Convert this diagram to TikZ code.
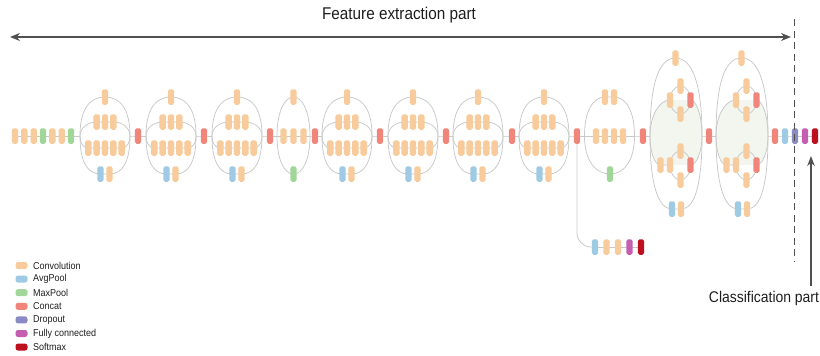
\documentclass[tikz,border=0pt]{standalone}
\usepackage{fontspec}
\setmainfont{Liberation Sans}[FakeStretch=0.9]
\usetikzlibrary{arrows.meta}

\definecolor{cconv}{RGB}{248,203,156}
\definecolor{cavg}{RGB}{158,202,228}
\definecolor{cmax}{RGB}{160,214,152}
\definecolor{ccat}{RGB}{240,134,122}
\definecolor{cdrop}{RGB}{140,138,196}
\definecolor{cfc}{RGB}{196,94,176}
\definecolor{csoft}{RGB}{190,15,30}
\definecolor{cwire}{RGB}{200,200,200}
\definecolor{cshade}{RGB}{243,246,239}
\definecolor{ctext}{RGB}{30,30,30}
\definecolor{carrow}{RGB}{80,80,80}

\pgfdeclarelayer{wires}
\pgfsetlayers{wires,main}

\tikzset{
  blk/.style={rectangle, rounded corners=1.8pt, minimum width=6.4pt,
    minimum height=15.5pt, inner sep=0pt, outer sep=0pt, draw=none},
  convblk/.style={blk, fill=cconv},
  avgblk/.style={blk, fill=cavg},
  maxblk/.style={blk, fill=cmax},
  catblk/.style={blk, fill=ccat},
  dropblk/.style={blk, fill=cdrop},
  fcblk/.style={blk, fill=cfc},
  softblk/.style={blk, fill=csoft},
  wire/.style={draw=cwire, line width=0.75pt},
  swatch/.style={rectangle, rounded corners=2.5pt, minimum width=12pt,
    minimum height=7pt, inner sep=0pt},
  legtext/.style={anchor=west, inner sep=0pt, text=ctext,
    font=\fontsize{10}{11}\selectfont},
  heading/.style={text=ctext, inner sep=0pt, font=\fontsize{17}{19}\selectfont},
  bigarrow/.style={draw=carrow, line width=1.8pt},
  dashline/.style={draw=carrow, line width=1.7pt, dash pattern=on 7pt off 4.5pt},
}

% Inception module with 1 / 3 / 5 / pool+1 branches
\newcommand\incA[2]{%
  \node[convblk] (#1t) at (#2,97) {};
  \foreach \i/\d in {1/-8.33,2/0,3/8.33}
    \node[convblk] (#1m\i) at ({#2+(\d)},122) {};
  \foreach \i/\d in {1/-16.67,2/-8.33,3/0,4/8.33,5/16.67}
    \node[convblk] (#1n\i) at ({#2+(\d)},148) {};
  \node[avgblk] (#1b1) at ({#2-4.5},174) {};
  \node[convblk] (#1b2) at ({#2+4.5},174) {};
  \coordinate (#1l) at ({#2-25},136);
  \coordinate (#1r) at ({#2+25},136);
}
\newcommand\wireA[1]{%
  \draw[wire] (#1l) to[out=90,in=180,out distance=26pt,in distance=16pt] (#1t.center)
    to[out=0,in=90,out distance=16pt,in distance=26pt] (#1r);
  \draw[wire] (#1l) to[out=90,in=180,out distance=8pt,in distance=9pt] (#1m1.center)
    -- (#1m3.center) to[out=0,in=90,out distance=9pt,in distance=8pt] (#1r);
  \draw[wire] (#1l) to[out=-90,in=180,out distance=7pt,in distance=5pt] (#1n1.center)
    -- (#1n5.center) to[out=0,in=-90,out distance=5pt,in distance=7pt] (#1r);
  \draw[wire] (#1l) to[out=-90,in=180,out distance=26pt,in distance=13pt] (#1b1.center)
    -- (#1b2.center) to[out=0,in=-90,out distance=13pt,in distance=26pt] (#1r);
}

% Grid reduction module (1 / 3 / max pool)
\newcommand\incB[2]{%
  \node[convblk] (#1t) at (#2,97) {};
  \foreach \i/\d in {1/-10,2/0,3/10}
    \node[convblk] (#1m\i) at ({#2+(\d)},136) {};
  \node[maxblk] (#1b) at (#2,174) {};
  \coordinate (#1l) at ({#2-16.5},136);
  \coordinate (#1r) at ({#2+16.5},136);
}
\newcommand\wireB[1]{%
  \draw[wire] (#1l) to[out=90,in=180,out distance=24pt,in distance=9pt] (#1t.center)
    to[out=0,in=90,out distance=9pt,in distance=24pt] (#1r);
  \draw[wire] (#1l) -- (#1r);
  \draw[wire] (#1l) to[out=-90,in=180,out distance=24pt,in distance=9pt] (#1b.center)
    to[out=0,in=-90,out distance=9pt,in distance=24pt] (#1r);
}

% Grid reduction module (2 / 4 / max pool)
\newcommand\incD[2]{%
  \node[convblk] (#1t1) at ({#2-4.5},97) {};
  \node[convblk] (#1t2) at ({#2+4.5},97) {};
  \foreach \i/\d in {1/-13.5,2/-4.5,3/4.5,4/13.5}
    \node[convblk] (#1m\i) at ({#2+(\d)},136) {};
  \node[maxblk] (#1b) at ({#2+0.5},174) {};
  \coordinate (#1l) at ({#2-25},136);
  \coordinate (#1r) at ({#2+25},136);
}
\newcommand\wireD[1]{%
  \draw[wire] (#1l) to[out=90,in=180,out distance=25pt,in distance=12pt] (#1t1.center)
    -- (#1t2.center) to[out=0,in=90,out distance=12pt,in distance=25pt] (#1r);
  \draw[wire] (#1l) -- (#1r);
  \draw[wire] (#1l) to[out=-90,in=180,out distance=25pt,in distance=14pt] (#1b.center)
    to[out=0,in=-90,out distance=14pt,in distance=25pt] (#1r);
}

% Expanded filter bank module with split branches
\newcommand\incE[2]{%
  \node[convblk] (#1t) at ({#2-0.5},58) {};
  \node[convblk] (#1uc) at ({#2-6},100) {};
  \node[convblk] (#1ut) at ({#2+4.5},86) {};
  \node[convblk] (#1ub) at ({#2+4.5},114) {};
  \node[catblk]  (#1uk) at ({#2+14.5},100) {};
  \node[convblk] (#1lc1) at ({#2-15.5},165) {};
  \node[convblk] (#1lc2) at ({#2-6},165) {};
  \node[convblk] (#1lt) at ({#2+4.5},151) {};
  \node[convblk] (#1lb) at ({#2+4.5},180) {};
  \node[catblk]  (#1lk) at ({#2+14.5},165) {};
  \node[avgblk]  (#1b1) at ({#2-4},209) {};
  \node[convblk] (#1b2) at ({#2+5},209) {};
  \coordinate (#1l) at ({#2-26},136);
  \coordinate (#1r) at ({#2+26},136);
}
\newcommand\wireE[1]{%
  \fill[cshade] (#1l) to[out=90,in=180,out distance=20pt,in distance=11pt] (#1uc.center)
    -- (#1uk.center) to[out=0,in=90,out distance=6pt,in distance=20pt] (#1r)
    to[out=-90,in=0,out distance=16pt,in distance=6pt] (#1lk.center)
    -- (#1lc1.center) to[out=180,in=-90,out distance=6pt,in distance=16pt] (#1l) -- cycle;
  \draw[wire] (#1l) to[out=90,in=180,out distance=52pt,in distance=17pt] (#1t.center)
    to[out=0,in=90,out distance=17pt,in distance=52pt] (#1r);
  \draw[wire] (#1l) to[out=-90,in=180,out distance=48pt,in distance=14pt] (#1b1.center)
    -- (#1b2.center) to[out=0,in=-90,out distance=14pt,in distance=48pt] (#1r);
  % upper split
  \draw[wire] (#1l) to[out=90,in=180,out distance=20pt,in distance=11pt] (#1uc.center);
  \draw[wire] (#1uc.center) to[out=90,in=180,out distance=7.7pt,in distance=5.8pt] (#1ut.center)
    to[out=0,in=90,out distance=5.5pt,in distance=7.7pt] (#1uk.center);
  \draw[wire] (#1uc.center) to[out=-90,in=180,out distance=7.7pt,in distance=5.8pt] (#1ub.center)
    to[out=0,in=-90,out distance=5.5pt,in distance=7.7pt] (#1uk.center);
  \draw[wire] (#1uk.center) to[out=0,in=90,out distance=6pt,in distance=20pt] (#1r);
  % lower split
  \draw[wire] (#1l) to[out=-90,in=180,out distance=16pt,in distance=6pt] (#1lc1.center)
    -- (#1lc2.center);
  \draw[wire] (#1lc2.center) to[out=90,in=180,out distance=7.7pt,in distance=5.8pt] (#1lt.center)
    to[out=0,in=90,out distance=5.5pt,in distance=7.7pt] (#1lk.center);
  \draw[wire] (#1lc2.center) to[out=-90,in=180,out distance=8pt,in distance=5.8pt] (#1lb.center)
    to[out=0,in=-90,out distance=5.5pt,in distance=8pt] (#1lk.center);
  \draw[wire] (#1lk.center) to[out=0,in=-90,out distance=6pt,in distance=16pt] (#1r);
}

\begin{document}
\begin{tikzpicture}[x=1pt,y=-1pt]
  \useasboundingbox (0,0) rectangle (820,356);

  % stem
  \foreach \x/\s [count=\i] in {15/convblk,24.3/convblk,33.7/convblk,43/maxblk,
      52.3/convblk,61.7/convblk,71/maxblk}
    \node[\s] (s\i) at (\x,136) {};

  % modules
  \incA{a1}{105}
  \incA{a2}{171}
  \incA{a3}{237}
  \incB{b}{293.5}
  \incA{c1}{347}
  \incA{c2}{413}
  \incA{c3}{478}
  \incA{c4}{544}
  \incD{d}{609.5}
  \incE{e1}{676}
  \incE{e2}{742}

  % concatenations between modules
  \foreach \x [count=\i] in {138,204,270,315,380,446,512,577,643,709,775}
    \node[catblk] (k\i) at (\x,136) {};

  % auxiliary classifier
  \node[avgblk]  (x1) at (595,247) {};
  \node[convblk] (x2) at (606.5,247) {};
  \node[convblk] (x3) at (618,247) {};
  \node[fcblk]   (x4) at (629.5,247) {};
  \node[softblk] (x5) at (641,247) {};

  % classifier head
  \node[avgblk]  (f1) at (785,136) {};
  \node[dropblk] (f2) at (795,136) {};
  \node[fcblk]   (f3) at (805,136) {};
  \node[softblk] (f4) at (815,136) {};

  \begin{pgfonlayer}{wires}
    \wireA{a1}\wireA{a2}\wireA{a3}\wireB{b}
    \wireA{c1}\wireA{c2}\wireA{c3}\wireA{c4}
    \wireD{d}\wireE{e1}\wireE{e2}
    \draw[wire] (s1.center) -- (a1l);
    \draw[wire] (a1r) -- (k1.center) -- (a2l);
    \draw[wire] (a2r) -- (k2.center) -- (a3l);
    \draw[wire] (a3r) -- (k3.center) -- (bl);
    \draw[wire] (br) -- (k4.center) -- (c1l);
    \draw[wire] (c1r) -- (k5.center) -- (c2l);
    \draw[wire] (c2r) -- (k6.center) -- (c3l);
    \draw[wire] (c3r) -- (k7.center) -- (c4l);
    \draw[wire] (c4r) -- (k8.center) -- (dl);
    \draw[wire] (dr) -- (k9.center) -- (e1l);
    \draw[wire] (e1r) -- (k10.center) -- (e2l);
    \draw[wire] (e2r) -- (k11.center) -- (f4.center);
    \draw[wire, rounded corners=14pt] (k8.center) |- (x1.center);
    \draw[wire] (x1.center) -- (x5.center);
  \end{pgfonlayer}

  % feature extraction span
  \coordinate (fl) at (10,37);
  \coordinate (fr) at (791,37);
  \draw[bigarrow, {Stealth[length=10pt,width=8pt]}-{Stealth[length=10pt,width=8pt]}] (fl) -- (fr);
  \node[heading] (fet) at (399,15) {Feature extraction part};

  % split between the two parts
  \coordinate (dtop) at (794.5,19);
  \coordinate (dbot) at (794.5,262);
  \draw[dashline] (dtop) -- (dbot);

  % classification label
  \node[heading, font=\fontsize{15.5}{17}\selectfont] (clt) at (764,298) {Classification part};
  \coordinate (cab) at (811,286);
  \coordinate (cat) at (811,156);
  \draw[draw=carrow, line width=1.5pt, -{Stealth[length=10pt,width=7.5pt]}] (cab) -- (cat);

  % legend
  \foreach \c/\t [count=\i from 0] in {cconv/Convolution,cavg/AvgPool,cmax/MaxPool,
      ccat/Concat,cdrop/Dropout,cfc/Fully connected,csoft/Softmax} {
    \node[swatch, fill=\c] (lg\i) at (21.5,{265.5+13.6*\i}) {};
    \node[legtext] (lt\i) at (33,{265.5+13.6*\i}) {\t};
  }
\end{tikzpicture}
\end{document}
